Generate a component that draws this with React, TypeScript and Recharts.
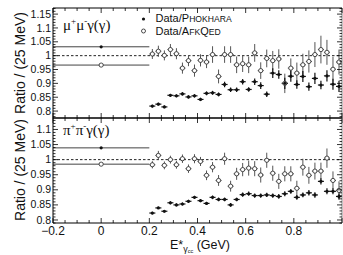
import React from "react";
import { ScatterChart, Scatter, XAxis, YAxis, ErrorBar, ReferenceLine } from "recharts";

// bin centres, 25 MeV wide
const binE = [
  0.2125, 0.2375, 0.2625, 0.2875, 0.3125, 0.3375, 0.3625, 0.3875, 0.4125, 0.4375, 0.4625,
  0.4875, 0.5125, 0.5375, 0.5625, 0.5875, 0.6125, 0.6375, 0.6625, 0.6875, 0.7125, 0.7375,
  0.7625, 0.7875, 0.8125, 0.8375, 0.8625, 0.8875, 0.9125, 0.9375, 0.9625, 0.9875,
];
const BIN_HALF = 0.0125;

// mu+ mu- gamma(gamma)
const muPhokhara = [
  0.818, 0.825, 0.815, 0.857, 0.855, 0.862, 0.851, 0.855, 0.842, 0.864, 0.866, 0.86, 0.896,
  0.877, 0.877, 0.906, 0.878, 0.906, 0.892, 0.861, 0.937, 0.932, 0.9, 0.926, 0.896, 0.925,
  0.888, 0.918, 0.894, 0.927, 0.897, 0.889,
];
const muPhokharaErr = [
  0.005, 0.005, 0.005, 0.005, 0.005, 0.006, 0.006, 0.006, 0.006, 0.007, 0.007, 0.007, 0.01,
  0.008, 0.008, 0.01, 0.008, 0.012, 0.012, 0.01, 0.018, 0.015, 0.02, 0.02, 0.015, 0.02, 0.015,
  0.02, 0.015, 0.02, 0.02, 0.02,
];
const muAfkqed = [
  1.006, 1.016, 1.001, 1.022, 1.007, 0.955, 0.982, 0.946, 0.983, 0.977, 1.004, 0.925, 1.004,
  1.004, 0.967, 0.971, 0.967, 1.01, 0.946, 0.99, 0.982, 0.988, 0.9, 0.955, 0.937, 0.967, 0.979,
  1.004, 1.022, 1.012, 0.951, 0.977,
];
const muAfkqedErr = [
  0.018, 0.02, 0.018, 0.02, 0.02, 0.02, 0.02, 0.022, 0.022, 0.022, 0.03, 0.025, 0.03, 0.03,
  0.03, 0.03, 0.03, 0.032, 0.03, 0.032, 0.035, 0.035, 0.035, 0.035, 0.038, 0.04, 0.04, 0.045,
  0.05, 0.045, 0.045, 0.045,
];
const muRefPhokhara = 1.032;
const muRefAfkqed = 0.966;

// pi+ pi- gamma(gamma)
const piPhokhara = [
  0.823, 0.84, 0.829, 0.857, 0.85, 0.853, 0.862, 0.875, 0.864, 0.855, 0.875, 0.868, 0.868,
  0.85, 0.868, 0.884, 0.887, 0.881, 0.881, 0.883, 0.881, 0.878, 0.887, 0.895, 0.875, 0.883,
  0.89, 0.883, 0.928, 0.895, 0.895, 0.878,
];
const piPhokharaErr = [
  0.004, 0.004, 0.004, 0.005, 0.005, 0.005, 0.005, 0.005, 0.005, 0.005, 0.006, 0.006, 0.006,
  0.006, 0.006, 0.007, 0.007, 0.007, 0.007, 0.007, 0.007, 0.008, 0.008, 0.008, 0.008, 0.008,
  0.009, 0.009, 0.01, 0.01, 0.01, 0.01,
];
const piAfkqed = [
  0.983, 1.014, 0.981, 1.0, 0.983, 1.003, 0.97, 1.003, 0.994, 0.948, 0.975, 0.931, 1.003,
  0.912, 0.953, 0.967, 0.972, 0.97, 0.949, 0.998, 0.955, 0.928, 0.953, 0.953, 0.905, 0.975,
  0.948, 0.962, 0.962, 1.005, 0.931, 0.898,
];
const piAfkqedErr = [
  0.012, 0.015, 0.013, 0.013, 0.013, 0.014, 0.014, 0.015, 0.015, 0.016, 0.017, 0.018, 0.02,
  0.018, 0.02, 0.022, 0.025, 0.025, 0.025, 0.025, 0.025, 0.025, 0.025, 0.025, 0.025, 0.028,
  0.028, 0.028, 0.028, 0.032, 0.03, 0.03,
];
const piRefPhokhara = 1.039;
const piRefAfkqed = 0.985;

// reference point at E = 0 covers -0.2..0.2
const REF_E = 0;
const REF_HALF = 0.2;

const xLabels = [-0.2, 0, 0.2, 0.4, 0.6, 0.8];
const muYLabels = [0.8, 0.85, 0.9, 0.95, 1, 1.05, 1.1, 1.15];
const piYLabels = [0.8, 0.85, 0.9, 0.95, 1, 1.05, 1.1];

const FONT = "'Liberation Sans', Arial, sans-serif";
const SERIF = "'Liberation Serif', 'Times New Roman', serif";

const steps = (from: number, to: number, div: number) => {
  const out: number[] = [];
  for (let i = from; i <= to; i++) out.push(i / div);
  return out;
};
const xTicks = steps(-4, 20, 20); // every 0.05
const muYTicks = steps(78, 117, 100);
const piYTicks = steps(79, 113, 100);

const fmt = (v: number) => {
  const s = String(Math.round(v * 100) / 100);
  return s.startsWith("-") ? "\u2212" + s.slice(1) : s;
};
const has = (list: number[] | undefined, v: number) =>
  !!list && list.some((l) => Math.abs(l - v) < 1e-6);

const rows = (ys: number[], errs: number[]) =>
  binE.map((x, i) => ({ x, y: ys[i], ex: BIN_HALF, ey: errs[i] }));

function XTick(props: any) {
  const { x, y, payload, side, labels } = props;
  const v = payload.value;
  const major = Math.round(v * 100) % 20 === 0;
  const len = major ? 5 : 3;
  const y2 = side === "bottom" ? y - len : y + len;
  return (
    <g>
      <line x1={x} x2={x} y1={y} y2={y2} stroke="#000" strokeWidth={0.8} />
      {has(labels, v) && (
        <text x={x} y={y + 12} textAnchor="middle" fontSize={12} fontFamily={FONT} fill="#111">
          {fmt(v)}
        </text>
      )}
    </g>
  );
}

function YTick(props: any) {
  const { x, y, payload, side, labels } = props;
  const v = payload.value;
  const major = Math.round(v * 100) % 5 === 0;
  const len = major ? 5 : 2.5;
  const dx = side === "left" ? len : -len;
  return (
    <g>
      <line x1={x} x2={x + dx} y1={y} y2={y} stroke="#000" strokeWidth={0.8} />
      {has(labels, v) && (
        <text x={x - 2} y={y} dy="0.34em" textAnchor="end" fontSize={10.5} fontFamily={FONT} fill="#111">
          {fmt(v)}
        </text>
      )}
    </g>
  );
}

const FilledDot = (p: any) => <circle cx={p.cx} cy={p.cy} r={1.6} fill="#111" />;
const OpenDot = (p: any) => (
  <circle cx={p.cx} cy={p.cy} r={2.1} fill="#fff" stroke="#222" strokeWidth={0.8} />
);

interface PanelProps {
  top: number;
  height: number;
  topAxisH: number;
  bottomAxisH: number;
  domain: [number, number];
  yTicks: number[];
  yLabels: number[];
  phokhara: number[];
  phokharaErr: number[];
  afkqed: number[];
  afkqedErr: number[];
  refPhokhara: number;
  refAfkqed: number;
  showXLabels: boolean;
}

function Panel(p: PanelProps) {
  const ax = { xAxisId: "b", yAxisId: "l" };
  return (
    <div style={{ position: "absolute", left: 0, top: p.top }}>
      <ScatterChart width={343} height={p.height} margin={{ top: 0, right: 0, bottom: 0, left: 0 }}>
        <XAxis
          xAxisId="b"
          type="number"
          dataKey="x"
          orientation="bottom"
          domain={[-0.2, 1.0]}
          allowDataOverflow
          ticks={xTicks}
          interval={0}
          height={p.bottomAxisH}
          tickSize={0}
          tickMargin={0}
          tickLine={false}
          axisLine={{ stroke: "#000", strokeWidth: 1 }}
          tick={(t: any) => <XTick {...t} side="bottom" labels={p.showXLabels ? xLabels : undefined} />}
        />
        <XAxis
          xAxisId="t"
          type="number"
          dataKey="x"
          orientation="top"
          domain={[-0.2, 1.0]}
          allowDataOverflow
          ticks={xTicks}
          interval={0}
          height={p.topAxisH}
          tickSize={0}
          tickMargin={0}
          tickLine={false}
          axisLine={{ stroke: "#000", strokeWidth: 1 }}
          tick={(t: any) => <XTick {...t} side="top" />}
        />
        <YAxis
          yAxisId="l"
          type="number"
          dataKey="y"
          domain={p.domain}
          allowDataOverflow
          ticks={p.yTicks}
          interval={0}
          width={53}
          tickSize={0}
          tickMargin={0}
          tickLine={false}
          axisLine={{ stroke: "#000", strokeWidth: 1 }}
          tick={(t: any) => <YTick {...t} side="left" labels={p.yLabels} />}
        />
        <YAxis
          yAxisId="r"
          type="number"
          dataKey="y"
          orientation="right"
          domain={p.domain}
          allowDataOverflow
          ticks={p.yTicks}
          interval={0}
          width={1}
          tickSize={0}
          tickMargin={0}
          tickLine={false}
          axisLine={{ stroke: "#888", strokeWidth: 1 }}
          tick={(t: any) => <YTick {...t} side="right" />}
        />
        <ReferenceLine {...ax} y={1} stroke="#222" strokeDasharray="2.5 2" strokeWidth={1} />
        <Scatter
          {...ax}
          data={[{ x: REF_E, y: p.refPhokhara, ex: REF_HALF }]}
          shape={FilledDot}
          isAnimationActive={false}
        >
          <ErrorBar dataKey="ex" direction="x" width={0} stroke="#444" strokeWidth={1} isAnimationActive={false} />
        </Scatter>
        <Scatter
          {...ax}
          data={[{ x: REF_E, y: p.refAfkqed, ex: REF_HALF }]}
          shape={OpenDot}
          isAnimationActive={false}
        >
          <ErrorBar dataKey="ex" direction="x" width={0} stroke="#444" strokeWidth={1} isAnimationActive={false} />
        </Scatter>
        <Scatter {...ax} data={rows(p.afkqed, p.afkqedErr)} shape={OpenDot} isAnimationActive={false}>
          <ErrorBar dataKey="ey" direction="y" width={0} stroke="#555" strokeWidth={1} isAnimationActive={false} />
          <ErrorBar dataKey="ex" direction="x" width={0} stroke="#555" strokeWidth={1} isAnimationActive={false} />
        </Scatter>
        <Scatter {...ax} data={rows(p.phokhara, p.phokharaErr)} shape={FilledDot} isAnimationActive={false}>
          <ErrorBar dataKey="ey" direction="y" width={0} stroke="#111" strokeWidth={1.2} isAnimationActive={false} />
          <ErrorBar dataKey="ex" direction="x" width={0} stroke="#111" strokeWidth={1.2} isAnimationActive={false} />
        </Scatter>
      </ScatterChart>
    </div>
  );
}

export default function App() {
  return (
    <div style={{ position: "absolute", left: 0, top: 0, width: 343, height: 255, background: "#fff", overflow: "hidden" }}>
      <Panel
        top={0}
        height={120}
        topAxisH={8}
        bottomAxisH={2}
        domain={[0.775, 1.172]}
        yTicks={muYTicks}
        yLabels={muYLabels}
        phokhara={muPhokhara}
        phokharaErr={muPhokharaErr}
        afkqed={muAfkqed}
        afkqedErr={muAfkqedErr}
        refPhokhara={muRefPhokhara}
        refAfkqed={muRefAfkqed}
        showXLabels={false}
      />
      <Panel
        top={110}
        height={145}
        topAxisH={8}
        bottomAxisH={32}
        domain={[0.79, 1.138]}
        yTicks={piYTicks}
        yLabels={piYLabels}
        phokhara={piPhokhara}
        phokharaErr={piPhokharaErr}
        afkqed={piAfkqed}
        afkqedErr={piAfkqedErr}
        refPhokhara={piRefPhokhara}
        refAfkqed={piRefAfkqed}
        showXLabels={true}
      />
      <svg width={343} height={255} style={{ position: "absolute", left: 0, top: 0, pointerEvents: "none" }}>
        <g fontFamily={FONT} fill="#111">
          <text x={25} y={63} transform="rotate(-90 25 63)" textAnchor="middle" fontSize={14}>
            Ratio / (25 MeV)
          </text>
          <text x={25} y={170} transform="rotate(-90 25 170)" textAnchor="middle" fontSize={14}>
            Ratio / (25 MeV)
          </text>
          <circle cx={143.5} cy={19} r={1.6} fill="#111" />
          <text x={155.5} y={22} fontSize={11}>
            Data/P<tspan fontSize={8.6}>HOKHARA</tspan>
          </text>
          <circle cx={143.5} cy={31} r={2} fill="#fff" stroke="#222" strokeWidth={0.8} />
          <text x={155.5} y={34.5} fontSize={11}>
            Data/A<tspan fontSize={8.6}>FK</tspan>Q<tspan fontSize={8.6}>ED</tspan>
          </text>
          <text x={170} y={249} fontSize={12.5}>
            E*<tspan fontSize={9} dy={2.5}>γ</tspan>
            <tspan fontSize={5.5} dy={1}>cc</tspan>
            <tspan dy={-3.5}> (GeV)</tspan>
          </text>
        </g>
        <g fontFamily={SERIF} fill="#111" fontSize={15}>
          <text x={63} y={30}>
            μ<tspan fontSize={9} dy={-6}>+</tspan>
            <tspan dy={6}>μ</tspan>
            <tspan fontSize={9} dy={-6}>-</tspan>
            <tspan dy={6}>γ(γ)</tspan>
          </text>
          <text x={63} y={135}>
            π<tspan fontSize={9} dy={-6}>+</tspan>
            <tspan dy={6}>π</tspan>
            <tspan fontSize={9} dy={-6}>-</tspan>
            <tspan dy={6}>γ(γ)</tspan>
          </text>
        </g>
      </svg>
    </div>
  );
}
